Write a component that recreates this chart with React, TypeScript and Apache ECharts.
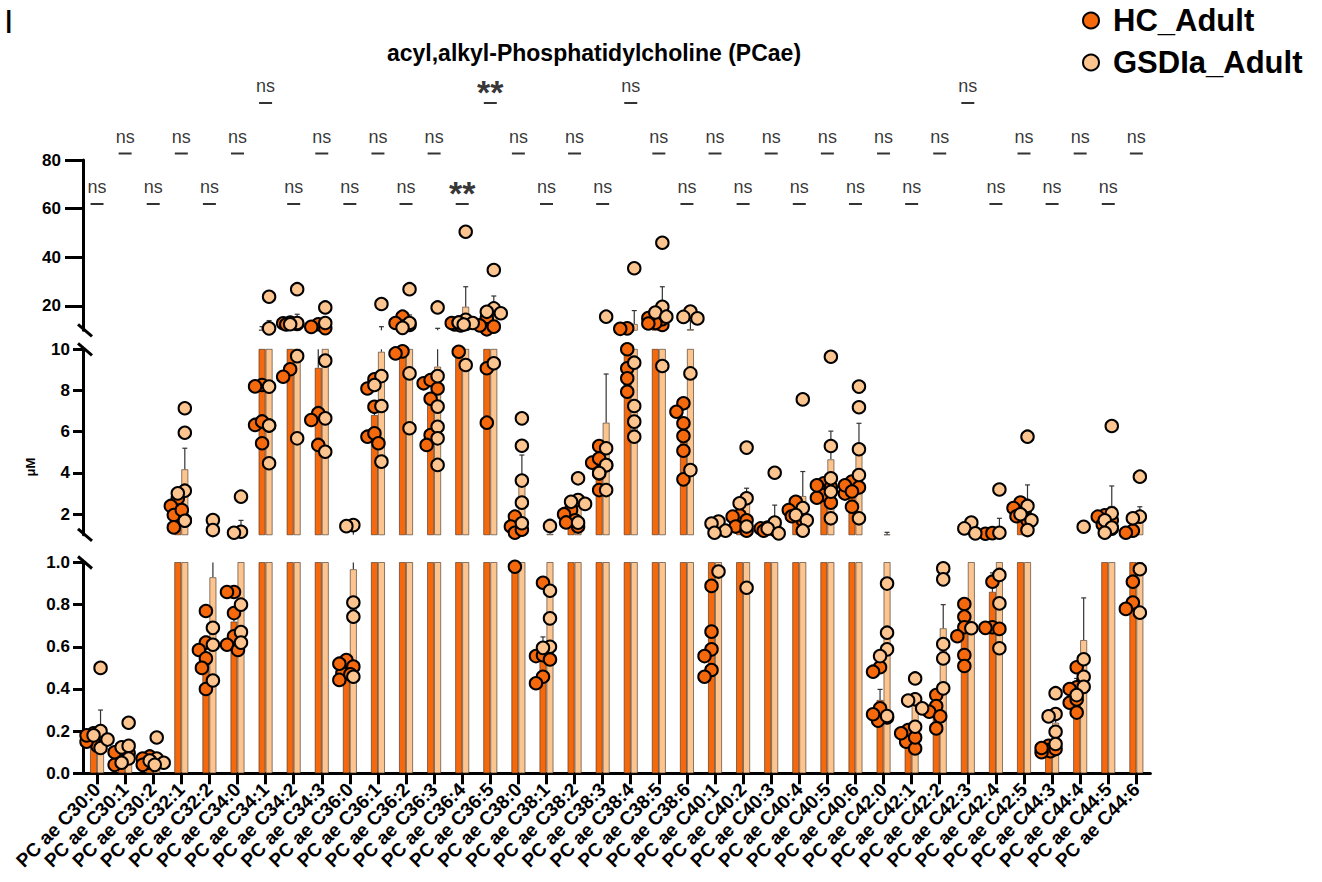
import React, { useEffect, useRef } from "react";
import * as echarts from "echarts";

// ---------------- data ----------------
const categories = [
  "PC ae C30:0", "PC ae C30:1", "PC ae C30:2", "PC ae C32:1", "PC ae C32:2", "PC ae C34:0",
  "PC ae C34:1", "PC ae C34:2", "PC ae C34:3", "PC ae C36:0", "PC ae C36:1", "PC ae C36:2",
  "PC ae C36:3", "PC ae C36:4", "PC ae C36:5", "PC ae C38:0", "PC ae C38:1", "PC ae C38:2",
  "PC ae C38:3", "PC ae C38:4", "PC ae C38:5", "PC ae C38:6", "PC ae C40:1", "PC ae C40:2",
  "PC ae C40:3", "PC ae C40:4", "PC ae C40:5", "PC ae C40:6", "PC ae C42:0", "PC ae C42:1",
  "PC ae C42:2", "PC ae C42:3", "PC ae C42:4", "PC ae C42:5", "PC ae C44:3", "PC ae C44:4",
  "PC ae C44:5", "PC ae C44:6",
];

const hcPoints: number[][] = [
  [0.19, 0.17, 0.16, 0.13, 0.15, 0.18],
  [0.12, 0.095, 0.055, 0.04, 0.1],
  [0.08, 0.07, 0.05, 0.06, 0.04],
  [2.77, 2.4, 1.96, 1.7, 1.36, 2.2],
  [0.77, 0.62, 0.585, 0.545, 0.5, 0.4],
  [0.86, 0.86, 0.76, 0.65, 0.61, 0.585],
  [8.27, 8.2, 6.33, 6.3, 6.5, 5.44],
  [13.2, 12.6, 12.9, 12.4, 9.03, 8.67],
  [12.5, 11.4, 10.9, 6.9, 6.57, 5.36],
  [0.537, 0.474, 0.506, 0.443, 0.47, 0.52],
  [8.54, 8.1, 7.21, 5.76, 5.92, 5.44],
  [15.6, 11.5, 13.0, 12.2, 9.9, 9.8],
  [8.35, 8.51, 8.1, 5.84, 5.36, 7.6],
  [12.4, 13.0, 13.2, 12.0, 9.88, 12.6],
  [14.9, 10.4, 11.5, 12.0, 9.08, 6.44],
  [1.88, 1.4, 1.1, 1.25, 0.98],
  [0.904, 0.556, 0.56, 0.54, 0.458, 0.427],
  [2.2, 2.0, 1.7, 1.4, 1.6],
  [5.31, 4.38, 4.5, 3.98, 3.17, 4.7],
  [10.8, 10.6, 10.0, 9.08, 8.59, 7.94],
  [12.2, 16.3, 14.6, 13.0, 15.0, 12.8],
  [7.38, 6.97, 6.41, 5.79, 5.08, 3.69],
  [0.889, 0.672, 0.588, 0.556, 0.49, 0.458],
  [1.95, 1.88, 1.7, 1.4, 1.2],
  [1.31, 1.25, 1.35, 1.2],
  [2.6, 2.2, 1.9, 1.7, 2.0],
  [3.5, 3.3, 2.93, 2.8, 2.56, 3.4],
  [3.58, 3.3, 3.0, 2.36, 3.4, 3.1],
  [0.503, 0.482, 0.308, 0.265, 0.25, 0.28],
  [0.205, 0.15, 0.118, 0.17, 0.19],
  [0.371, 0.319, 0.292, 0.27, 0.213],
  [0.803, 0.743, 0.693, 0.65, 0.561, 0.509],
  [1.05, 1.08, 0.909, 0.693, 0.69, 0.685],
  [2.56, 2.3, 2.1, 1.7, 1.9],
  [0.13, 0.11, 0.105, 0.1, 0.12, 0.115],
  [0.503, 0.408, 0.4, 0.335, 0.35, 0.288],
  [1.95, 1.88, 1.7, 1.5, 1.3],
  [1.2, 1.1, 0.909, 0.81, 0.78],
];

const gsdPoints: number[][] = [
  [0.5, 0.2, 0.18, 0.12, 0.16],
  [0.24, 0.123, 0.13, 0.07, 0.05],
  [0.17, 0.07, 0.06, 0.05, 0.04],
  [7.14, 5.95, 3.14, 3.01, 1.68],
  [1.72, 1.23, 0.69, 0.61, 0.44],
  [2.85, 1.15, 1.1, 0.8, 0.67, 0.62],
  [23.8, 10.8, 8.19, 6.3, 4.47],
  [26.9, 13.0, 12.5, 9.67, 5.68],
  [19.4, 13.0, 9.45, 6.65, 5.03],
  [1.47, 1.42, 0.81, 0.743, 0.458],
  [20.8, 8.7, 8.27, 7.25, 4.55],
  [26.9, 13.0, 11.0, 8.83, 6.17],
  [19.4, 8.7, 7.22, 6.24, 5.68, 4.39],
  [50.5, 14.3, 13.2, 13.0, 12.4, 9.24],
  [34.8, 19.0, 17.6, 17.0, 9.32],
  [6.65, 5.32, 3.63, 2.56, 1.56],
  [1.43, 0.866, 0.735, 0.6, 0.595],
  [3.74, 2.69, 2.6, 2.5, 1.59],
  [15.6, 5.2, 4.38, 4.0, 3.17],
  [35.5, 9.35, 7.25, 6.49, 5.76],
  [46.0, 19.7, 17.3, 15.6, 9.19],
  [17.7, 14.9, 15.5, 8.83, 4.14],
  [1.64, 1.55, 1.2, 1.1, 0.957],
  [5.23, 2.77, 2.53, 1.4, 0.88],
  [4.01, 1.59, 1.3, 1.07],
  [7.57, 2.3, 1.96, 1.7, 1.2],
  [9.64, 5.31, 3.74, 3.09, 1.8],
  [8.19, 7.19, 5.15, 3.9, 1.8],
  [0.9, 0.667, 0.588, 0.556, 0.272],
  [0.45, 0.351, 0.345, 0.308, 0.221],
  [0.972, 0.92, 0.613, 0.545, 0.403],
  [1.59, 1.31, 1.07, 0.688],
  [3.2, 1.1, 0.941, 0.806, 0.593],
  [5.76, 2.4, 2.0, 1.7, 1.23],
  [0.38, 0.281, 0.27, 0.197, 0.139],
  [1.39, 0.541, 0.458, 0.41, 0.371],
  [6.28, 2.04, 1.7, 1.35, 1.1],
  [3.82, 1.88, 1.8, 0.968, 0.762],
];

const hcMean = [0.165, 0.08, 0.06, 2.1, 0.57, 0.72, 10.3, 12.9, 9.1, 0.49, 6.81, 14.2, 7.3, 12.9, 10.7, 1.3, 0.537, 1.9, 4.3, 10.2, 14.0, 5.8, 1.02, 1.7, 1.3, 2.1, 3.2, 3.1, 0.348, 0.17, 0.29, 0.68, 0.861, 2.2, 0.115, 0.4, 1.7, 1.05];
const hcSD = [0.025, 0.02, 0.01, 0.4, 0.08, 0.06, 1.2, 0.6, 1.5, 0.03, 0.6, 1.3, 0.5, 0.6, 2.8, 0.3, 0.11, 0.2, 0.5, 0.8, 1.5, 0.7, 0.08, 0.2, 0.05, 0.2, 0.2, 0.3, 0.05, 0.02, 0.03, 0.04, 0.09, 0.2, 0.01, 0.05, 0.15, 0.1];
const gsdMean = [0.23, 0.11, 0.065, 4.18, 0.93, 1.25, 11.5, 13.5, 12.0, 0.968, 9.88, 13.0, 9.16, 19.7, 19.8, 3.6, 1.05, 2.6, 6.44, 12.6, 18.0, 10.5, 1.2, 2.5, 1.6, 2.88, 4.66, 5.1, 1.02, 0.33, 0.688, 1.1, 1.2, 2.6, 0.24, 0.632, 2.4, 1.75];
const gsdSD = [0.07, 0.03, 0.025, 1.02, 0.4, 0.45, 2.5, 3.1, 1.5, 0.25, 1.6, 3.3, 1.65, 8.2, 4.3, 1.27, 0.35, 0.4, 2.36, 5.5, 9.9, 3.5, 0.3, 0.76, 0.84, 1.19, 1.37, 1.31, 0.1, 0.05, 0.112, 0.2, 0.6, 0.82, 0.05, 0.2, 0.97, 0.61];

const sigLevel = [1, 2, 1, 2, 1, 2, 3, 1, 2, 1, 2, 1, 2, 1, 3, 2, 1, 2, 1, 3, 2, 1, 2, 1, 2, 1, 2, 1, 2, 1, 2, 3, 1, 2, 1, 2, 1, 2];
const sigText = categories.map((_, i) => (i === 13 || i === 14 ? "**" : "ns"));

const topTicks = [20, 40, 60, 80];
const midTicks = [2, 4, 6, 8, 10];
const bottomTicks = [0, 0.2, 0.4, 0.6, 0.8, 1.0];

const seriesNames = ["HC_Adult", "GSDIa_Adult"];
const titleText = "acyl,alkyl-Phosphatidylcholine (PCae)";

// ---------------- styling / layout ----------------
const FONT = "'Liberation Sans', Arial, Helvetica, sans-serif";
const HC_COLOR = "#F5690C";
const GSD_COLOR = "#FCC48E";
const BAR_W = 7;
const GRID_LEFT = 83;
const GRID_WIDTH = 1067.4;

const SEGMENTS = [
  { min: 10, max: 80, top: 160, height: 170.3, ticks: topTicks, digits: 0, tickLen: 18, margin: 22 },
  { min: 1, max: 10, top: 349.3, height: 185.5, ticks: midTicks, digits: 0, tickLen: 10, margin: 13 },
  { min: 0, max: 1, top: 562.5, height: 210.8, ticks: bottomTicks, digits: 1, tickLen: 10, margin: 13 },
];

function segmentOf(v: number) {
  if (v > 10) return 0;
  if (v > 1) return 1;
  return 2;
}

function swarm(vals: number[], seg: any) {
  const ppu = seg.height / (seg.max - seg.min);
  const placed: { x: number; y: number }[] = [];
  const order = vals.map((_, k) => k).sort((a, b) => vals[b] - vals[a]);
  const res: number[] = new Array(vals.length).fill(0);
  const cands = [0, -4, 4, -7, 7, -2, 2, -5, 5];
  for (const k of order) {
    const y = (vals[k] - seg.min) * ppu;
    let best = 0;
    let bestD = -1;
    for (const c of cands) {
      let dmin = Infinity;
      for (const p of placed) dmin = Math.min(dmin, Math.hypot(p.x - c, p.y - y));
      if (dmin >= 10) {
        best = c;
        break;
      }
      if (dmin > bestD) {
        bestD = dmin;
        best = c;
      }
    }
    placed.push({ x: best, y });
    res[k] = best;
  }
  return res;
}

function pointSeries(k: number, pts: number[][], side: number, name: string, color: string) {
  const seg = SEGMENTS[k];
  const data: any[] = [];
  pts.forEach((vals, i) => {
    const inSeg = vals.filter((v) => segmentOf(v) === k);
    const offs = swarm(inSeg, seg);
    inSeg.forEach((v, j) =>
      data.push({ value: [i, v], symbolOffset: [side * (BAR_W / 2) + offs[j], 0] })
    );
  });
  return {
    type: "scatter",
    name,
    xAxisIndex: k,
    yAxisIndex: k,
    symbol: "circle",
    symbolSize: 12.5,
    clip: false,
    z: 5,
    silent: true,
    itemStyle: { color, borderColor: "#000", borderWidth: 2, opacity: 1 },
    data,
  };
}

function barSeries(k: number, means: number[], color: string) {
  return {
    type: "bar",
    xAxisIndex: k,
    yAxisIndex: k,
    barWidth: BAR_W,
    barGap: "0%",
    clip: true,
    silent: true,
    z: 2,
    itemStyle: { color, borderColor: "rgba(60,45,35,0.75)", borderWidth: 0.8 },
    data: means,
  };
}

function errorSeries(k: number, means: number[], sds: number[], side: number) {
  const seg = SEGMENTS[k];
  return {
    type: "custom",
    xAxisIndex: k,
    yAxisIndex: k,
    silent: true,
    z: 3,
    encode: { x: 0, y: [1, 2] },
    data: means.map((m, i) => [i, m, m + sds[i]]),
    renderItem: (params: any, api: any) => {
      const i = api.value(0);
      const m = api.value(1);
      const t = api.value(2);
      const lo = Math.max(m, seg.min);
      const hi = Math.min(t, seg.max);
      if (hi <= lo) return null;
      const p1 = api.coord([i, lo]);
      const p2 = api.coord([i, hi]);
      const x = p1[0] + side * (BAR_W / 2);
      const st = { stroke: "#333", lineWidth: 1.2 };
      const children: any[] = [
        { type: "line", shape: { x1: x, y1: p1[1], x2: x, y2: p2[1] }, style: st },
      ];
      if (t <= seg.max) {
        children.push({ type: "line", shape: { x1: x - 2.5, y1: p2[1], x2: x + 2.5, y2: p2[1] }, style: st });
      }
      return { type: "group", children };
    },
  };
}

export default function App() {
  const ref = useRef<HTMLDivElement>(null);
  useEffect(() => {
    if (!ref.current) return;
    const chart = echarts.init(ref.current, undefined, { renderer: "svg" });

    const grids: any[] = SEGMENTS.map((s) => ({ left: GRID_LEFT, width: GRID_WIDTH, top: s.top, height: s.height }));
    grids.push({ left: GRID_LEFT, width: GRID_WIDTH, top: 103, height: 151.5 });

    const xAxes: any[] = SEGMENTS.map((s, k) => ({
      type: "category",
      gridIndex: k,
      data: categories,
      boundaryGap: true,
      axisLine: { show: k === 2, onZero: false, lineStyle: { color: "#000", width: 3 } },
      axisTick: { show: k === 2, alignWithLabel: true, length: 11, lineStyle: { color: "#000", width: 3 } },
      axisLabel: {
        show: k === 2,
        interval: 0,
        rotate: 45,
        margin: 13,
        color: "#000",
        fontSize: 19,
        fontWeight: "bold",
        fontFamily: FONT,
      },
      splitLine: { show: false },
    }));
    xAxes.push({ type: "category", gridIndex: 3, data: categories, show: false });

    const yAxes: any[] = SEGMENTS.map((s, k) => ({
      type: "value",
      gridIndex: k,
      min: s.min,
      max: s.max,
      axisLine: { show: true, lineStyle: { color: "#000", width: 3 } },
      axisTick: { show: true, length: s.tickLen, lineStyle: { color: "#000", width: 3 }, customValues: s.ticks },
      axisLabel: {
        customValues: s.ticks,
        formatter: (v: number) => v.toFixed(s.digits),
        color: "#000",
        fontSize: 17,
        fontWeight: "bold",
        fontFamily: FONT,
        margin: s.margin,
      },
      splitLine: { show: false },
    }));
    yAxes.push({ type: "value", gridIndex: 3, min: 0, max: 3, show: false });

    const series: any[] = [];
    SEGMENTS.forEach((_, k) => {
      series.push(barSeries(k, hcMean, HC_COLOR));
      series.push(barSeries(k, gsdMean, GSD_COLOR));
      series.push(errorSeries(k, hcMean, hcSD, -1));
      series.push(errorSeries(k, gsdMean, gsdSD, 1));
    });
    SEGMENTS.forEach((_, k) => {
      series.push(pointSeries(k, hcPoints, -1, seriesNames[0], HC_COLOR));
      series.push(pointSeries(k, gsdPoints, 1, seriesNames[1], GSD_COLOR));
    });

    series.push({
      type: "scatter",
      xAxisIndex: 3,
      yAxisIndex: 3,
      symbol: "rect",
      symbolSize: [13, 2],
      clip: false,
      silent: true,
      itemStyle: { color: "#000" },
      data: sigLevel.map((l, i) => ({
        value: [i, l],
        label:
          sigText[i] === "**"
            ? { fontSize: 34, fontWeight: 900, distance: -7 }
            : undefined,
      })),
      label: {
        show: true,
        position: "top",
        distance: 7,
        formatter: (p: any) => sigText[p.dataIndex],
        fontSize: 18,
        color: "#000",
        fontFamily: FONT,
      },
    });

    const breakLines: any[] = [];
    const breakYs = [
      SEGMENTS[0].top + SEGMENTS[0].height,
      SEGMENTS[1].top,
      SEGMENTS[1].top + SEGMENTS[1].height,
      SEGMENTS[2].top,
    ];
    breakYs.forEach((y) =>
      breakLines.push({
        type: "line",
        shape: { x1: GRID_LEFT - 5, y1: y - 6, x2: GRID_LEFT + 9, y2: y + 6 },
        style: { stroke: "#000", lineWidth: 3 },
      })
    );

    chart.setOption({
      animation: false,
      backgroundColor: "#fff",
      grid: grids,
      xAxis: xAxes,
      yAxis: yAxes,
      series,
      legend: {
        data: seriesNames,
        orient: "vertical",
        left: 1077,
        top: 0,
        itemWidth: 16,
        itemHeight: 16,
        itemGap: 11,
        icon: "circle",
        selectedMode: false,
        textStyle: { fontSize: 31, fontWeight: "bold", fontFamily: FONT, color: "#000", padding: [0, 0, 0, 9] },
      },
      graphic: [
        {
          type: "text",
          x: 594,
          y: 53,
          style: { text: titleText, font: `bold 23px ${FONT}`, fill: "#000", textAlign: "center", textVerticalAlign: "middle" },
        },
        {
          type: "text",
          x: 30,
          y: 467,
          rotation: Math.PI / 2,
          style: { text: "μM", font: `bold 13px ${FONT}`, fill: "#000", textAlign: "center", textVerticalAlign: "middle" },
        },
        {
          type: "text",
          x: 4,
          y: 21,
          style: { text: "I", font: `34px ${FONT}`, fill: "#000", textAlign: "left", textVerticalAlign: "middle" },
        },
        ...breakLines,
      ],
    });
    return () => chart.dispose();
  }, []);
  return (
    <div
      ref={ref}
      style={{ position: "fixed", left: 0, top: 0, width: 1322, height: 882, background: "#fff" }}
    />
  );
}
